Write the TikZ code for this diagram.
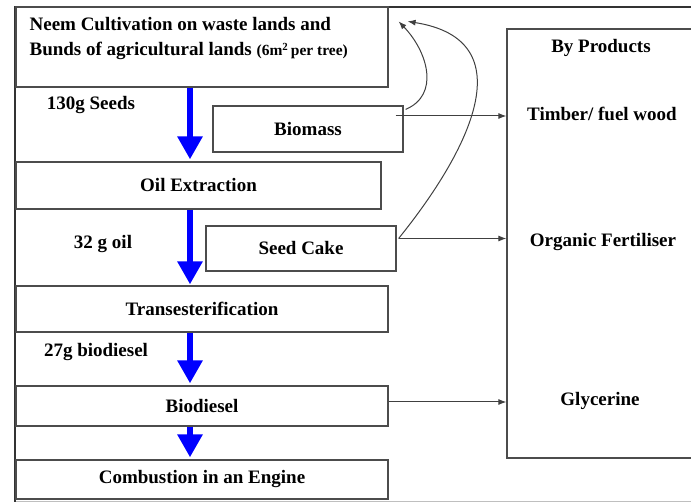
\documentclass[tikz,border=0pt]{standalone}
\usepackage{fontspec}
\setmainfont{Liberation Serif}
\usepackage{tikz}
\usetikzlibrary{arrows.meta}

\begin{document}
\begin{tikzpicture}[x=1pt,y=-1pt,
  box/.style={draw=black!70, line width=1.2pt, inner sep=0pt},
  txt/.style={font=\bfseries\fontsize{19}{25}\selectfont, inner sep=0pt},
  flow/.style={draw=blue, line width=6.5pt, -{Triangle[width=24pt,length=23pt]}},
  byarrow/.style={draw=black!75, line width=1pt, -{Latex[length=8pt,width=6pt]}}]
\clip (0,0) rectangle (691,502);
% Outer frame
\draw[black!25, line width=1pt] (15,501) -- (691,501);
\draw[black!80, line width=1.5pt] (691,7) -- (15,7) -- (15,502);
% Process boxes
\node[box, minimum width=372pt, minimum height=80pt] (neem) at (202,47) {};
\node[txt, align=left, anchor=north west] (neemtxt) at ([shift={(14,11)}]neem.north west)
  {Neem Cultivation on waste lands and\\
   Bunds of agricultural lands {\fontsize{15.5}{25}\selectfont(6m\textsuperscript{2}\,per tree)}};
\node[box, txt, minimum width=190pt, minimum height=46pt] (biomass) at (308,129) {Biomass};
\node[box, txt, minimum width=365pt, minimum height=47pt] (oil) at (198.5,185.5) {Oil Extraction};
\node[box, txt, minimum width=190pt, minimum height=45pt] (seedcake) at (301,248.5) {Seed Cake};
\node[box, txt, minimum width=372pt, minimum height=46pt] (trans) at (202,309) {Transesterification};
\node[box, txt, minimum width=372pt, minimum height=40pt] (biodiesel) at (202,406) {Biodiesel};
\node[box, txt, minimum width=372pt, minimum height=39pt] (comb) at (202,479.5) {Combustion in an Engine};
% By products
\node[box, minimum width=213pt, minimum height=429pt] (byprod) at (613.5,243.5) {};
\node[txt] (bytitle) at (601,48) {By Products};
\node[txt] (timber) at (602,114) {Timber/ fuel wood};
\node[txt] (fert) at (603,242) {Organic Fertiliser};
\node[txt] (glyc) at (600,401) {Glycerine};
% Quantities
\node[txt] (seeds) at (91,105) {130g Seeds};
\node[txt] (oilq) at (103,244) {32 g oil};
\node[txt] (bdq) at (96,352) {27g biodiesel};
% Main flow
\coordinate (spine) at (190,0);
\draw[flow] (neem.south -| spine) -- ([yshift=2pt]oil.north -| spine);
\draw[flow] (oil.south -| spine) -- ([yshift=1pt]trans.north -| spine);
\draw[flow] (trans.south -| spine) -- ([yshift=2pt]biodiesel.north -| spine);
\draw[flow] (biodiesel.south -| spine) -- ([yshift=2pt]comb.north -| spine);
% Side products
\draw[byarrow] ([shift={(-8,-13)}]biomass.east) coordinate (bm) -- (bm -| byprod.west);
\draw[byarrow] ([shift={(2,-10)}]seedcake.east) coordinate (sc) -- (sc -| byprod.west);
\draw[byarrow] ([yshift=4pt]biodiesel.east) coordinate (bd) -- (bd -| byprod.west);
% Returned to the land
\draw[byarrow] ([shift={(2,4)}]biomass.north east) .. controls (440,95) and (428,52) .. ([shift={(10,15)}]neem.north east);
\draw[byarrow] (sc) .. controls (470,150) and (525,40) .. ([shift={(19,15)}]neem.north east);
\end{tikzpicture}
\end{document}
